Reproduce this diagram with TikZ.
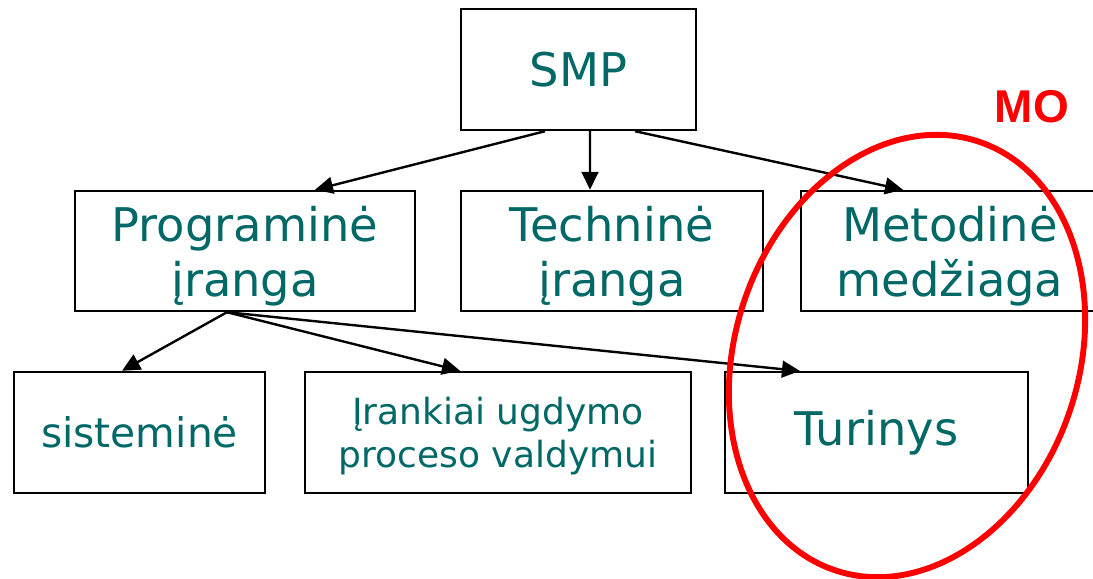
\documentclass[tikz,border=0pt]{standalone}
\usepackage{fontspec}
\setmainfont{DejaVu Sans}
\newfontfamily\markfont{Liberation Sans}
\usetikzlibrary{arrows.meta,calc}
\definecolor{boxtext}{RGB}{0,104,102}

\begin{document}
\begin{tikzpicture}[x=0.025cm,y=0.025cm,
  box/.style={rectangle,draw,line width=1.7pt,minimum height=3.0cm,inner sep=0pt,align=center,text=boxtext,font=\fontsize{33}{39}\selectfont},
  pair/.style={box,text depth=0pt},
  leaf/.style={box,minimum height=3.025cm,font=\fontsize{29}{35}\selectfont},
  tool/.style={box,minimum height=3.025cm,text depth=0pt,font=\fontsize{25.6}{30.6}\selectfont},
  edge/.style={line width=1.7pt,->,>={Triangle[length=0.45cm,width=0.42cm]}},
  ring/.style={draw=red,line width=4.2pt}]
\useasboundingbox (0,0) rectangle (1093,579);
\clip (0,0) rectangle (1093,579);

% top
\node(smp)[box,minimum width=5.875cm,minimum height=3.025cm] at (578.5,509.5) {SMP};

% second row
\node(prog)[pair,minimum width=8.5cm] at (245,328) {Programinė\\įranga};
\node(tech)[pair,minimum width=7.55cm] at (612,328) {Techninė\\įranga};
\node(meto)[pair,minimum width=7.45cm] at (950,328) {Metodinė\\medžiaga};

% third row
\node(sist)[leaf,minimum width=6.275cm] at (139.5,146.5) {sisteminė};
\node(iran)[tool,minimum width=9.65cm] at (498,146.5) {Įrankiai ugdymo\\proceso valdymui};
\node(turi)[box,minimum height=3.025cm,minimum width=7.575cm,line width=1.4pt] at (876.5,146.5) {Turinys};

\draw [edge] ($(smp.south)+(-33.5,0)$) to ($(prog.north)+(70,0)$);
\draw [edge] ($(smp.south)+(11.5,0)$) to ($(tech.north)+(-22,0)$);
\draw [edge] ($(smp.south)+(56.5,0)$) to ($(meto.north)+(-47,0)$);

\draw [edge] ($(prog.south)+(-18,0)$) to ($(sist.north)+(-17.5,0)$);
\draw [edge] ($(prog.south)+(-18,0)$) to ($(iran.north)+(-38,0)$);
\draw [edge] ($(prog.south)+(-18,0)$) to ($(turi.north)+(-76.5,0)$);

% MO
\draw [ring,rotate around={-18.6:(907,223)}] (907,223) ellipse [x radius=4.295cm,y radius=5.65cm];
\node(mo)[text=red,font=\markfont\bfseries\fontsize{32.7}{39}\selectfont] at (1032,472) {MO};
\end{tikzpicture}
\end{document}
